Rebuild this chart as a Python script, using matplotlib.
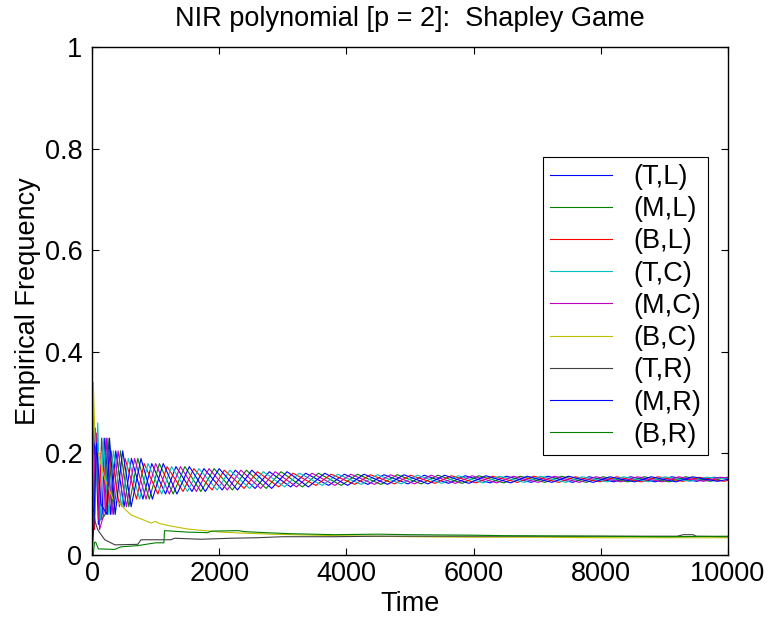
import matplotlib
matplotlib.use("Agg")
import matplotlib.pyplot as plt

plt.rcParams['font.family'] = ['Liberation Sans', 'DejaVu Sans']

# ---------------- data ----------------
labels = ["(T,L)", "(M,L)", "(B,L)", "(T,C)", "(M,C)", "(B,C)", "(T,R)", "(M,R)", "(B,R)"]

# per-cycle peak / trough levels of the six cycling joint actions
peak_lvl = [0.23, 0.205, 0.19, 0.18, 0.174, 0.170, 0.167, 0.164, 0.161, 0.159,
            0.158, 0.157, 0.156, 0.155, 0.155, 0.154, 0.154, 0.154, 0.153]
trough_lvl = [0.08, 0.095, 0.11, 0.12, 0.125, 0.128, 0.131, 0.134, 0.137, 0.139,
              0.140, 0.141, 0.142, 0.143, 0.143, 0.144, 0.144, 0.145, 0.145]

# (B,L) red
bl_t0 = [1, 10, 40, 75, 110]
bl_v0 = [0.0, 0.28, 0.05, 0.24, 0.07]
bl_t = [150, 240, 300, 432, 520, 700, 820, 1036, 1180, 1432, 1600, 1888, 2080, 2392,
        2600, 2936, 3160, 3520, 3760, 4132, 4380, 4758, 5010, 5394, 5650, 6040, 6300,
        6690, 6950, 7340, 7600, 7990, 8250, 8640, 8900, 9290, 9550, 9940]
bl_end = 0.147

# (T,C) cyan
tc_t0 = [1, 15, 45, 90, 135]
tc_v0 = [0.0, 0.2, 0.08, 0.26, 0.07]
tc_t = [175, 265, 337, 469, 570, 750, 880, 1096, 1250, 1502, 1680, 1968, 2167, 2479,
        2693, 3029, 3260, 3620, 3863, 4235, 4485, 4863, 5117, 5501, 5758, 6148, 6408,
        6798, 7058, 7448, 7708, 8098, 8358, 8748, 9008, 9398, 9658]
tc_end = 0.150

# (T,L) blue
tl_t0 = [1, 4, 15, 50, 100, 160]
tl_v0 = [1.0, 0.4, 0.12, 0.25, 0.06, 0.08]
tl_t = [200, 290, 373, 505, 620, 800, 940, 1156, 1320, 1572, 1760, 2048, 2253, 2565,
        2787, 3123, 3360, 3720, 3967, 4339, 4590, 4968, 5223, 5607, 5867, 6257, 6517,
        6907, 7167, 7557, 7817, 8207, 8467, 8857, 9117, 9507, 9767]
tl_end = 0.151

# (M,C) magenta
mc_t0 = [1, 20, 60, 120, 185]
mc_v0 = [0.0, 0.1, 0.24, 0.05, 0.08]
mc_t = [225, 315, 410, 542, 670, 850, 1000, 1216, 1390, 1642, 1840, 2128, 2340, 2652,
        2880, 3216, 3460, 3820, 4070, 4442, 4695, 5073, 5330, 5714, 5975, 6365, 6625,
        7015, 7275, 7665, 7925, 8315, 8575, 8965, 9225, 9615, 9875]
mc_end = 0.152

# (M,L) green
ml_t0 = [1, 8, 30, 80, 150, 210]
ml_v0 = [0.0, 0.34, 0.12, 0.2, 0.07, 0.08]
ml_t = [250, 340, 447, 579, 720, 900, 1060, 1276, 1460, 1712, 1920, 2208, 2427, 2739,
        2973, 3309, 3560, 3920, 4173, 4545, 4800, 5178, 5437, 5821, 6083, 6473, 6733,
        7123, 7383, 7773, 8033, 8423, 8683, 9073, 9333, 9723, 9983]
ml_end = 0.153

# (M,R) blue
mr_t0 = [1, 25, 70, 140, 235]
mr_v0 = [0.0, 0.05, 0.22, 0.1, 0.08]
mr_t = [275, 365, 483, 615, 770, 950, 1120, 1336, 1530, 1782, 2000, 2288, 2513, 2825,
        3067, 3403, 3660, 4020, 4277, 4649, 4905, 5283, 5543, 5927, 6192, 6582, 6842,
        7232, 7492, 7882, 8142, 8532, 8792, 9182, 9442, 9832]
mr_end = 0.149

# rarely played joint actions
bc_t = [1, 20, 50, 100, 200, 330, 400, 610, 930, 1000, 1060, 1240, 1510, 2030, 2400,
        2810, 3820, 5000, 6000, 7000, 8000, 9000, 10000]
bc_v = [0.0, 0.34, 0.22, 0.2, 0.15, 0.11, 0.105, 0.079, 0.063, 0.066, 0.062, 0.057,
        0.051, 0.045, 0.043, 0.041, 0.038, 0.036, 0.035, 0.035, 0.034, 0.034, 0.034]

tr_t = [1, 10, 50, 94, 200, 360, 720, 770, 1240, 1300, 1710, 2190, 2600, 3000, 3800,
        4500, 6000, 8000, 9200, 9300, 9450, 9500, 10000]
tr_v = [0.0, 0.1, 0.065, 0.049, 0.03, 0.02, 0.021, 0.03, 0.03, 0.033, 0.031, 0.033,
        0.034, 0.036, 0.036, 0.037, 0.037, 0.037, 0.037, 0.04, 0.04, 0.037, 0.036]

br_t = [1, 20, 40, 60, 100, 360, 450, 720, 1000, 1130, 1140, 1510, 1820, 1880, 2300,
        2400, 2720, 3100, 3820, 4500, 5000, 6000, 6500, 8000, 9000, 10000]
br_v = [0.0, 0.0, 0.025, 0.025, 0.012, 0.011, 0.016, 0.0185, 0.024, 0.024, 0.048,
        0.045, 0.044, 0.047, 0.048, 0.046, 0.044, 0.042, 0.04, 0.041, 0.04, 0.039,
        0.038, 0.037, 0.036, 0.037]

# MATLAB default colour order
c_b = (0, 0, 1)
c_g = (0, 0.5, 0)
c_r = (1, 0, 0)
c_c = (0, 0.75, 0.75)
c_m = (0.75, 0, 0.75)
c_y = (0.75, 0.75, 0)
c_k = (0.25, 0.25, 0.25)


def cyc(t0, v0, t, end):
    lv = []
    for p, q in zip(peak_lvl, trough_lvl):
        lv += [p, q]
    return t0 + t + [10000], v0 + lv[:len(t)] + [end]


series = [
    (cyc(tl_t0, tl_v0, tl_t, tl_end), c_b),
    (cyc(ml_t0, ml_v0, ml_t, ml_end), c_g),
    (cyc(bl_t0, bl_v0, bl_t, bl_end), c_r),
    (cyc(tc_t0, tc_v0, tc_t, tc_end), c_c),
    (cyc(mc_t0, mc_v0, mc_t, mc_end), c_m),
    ((bc_t, bc_v), c_y),
    ((tr_t, tr_v), c_k),
    (cyc(mr_t0, mr_v0, mr_t, mr_end), c_b),
    ((br_t, br_v), c_g),
]

# ---------------- figure ----------------
fig = plt.figure(figsize=(7.73, 6.19), dpi=100)
ax = fig.add_axes([92 / 773, 1 - 555 / 619, 636 / 773, 508 / 619])

for (xy, col), lab in zip(series, labels):
    ax.plot(xy[0], xy[1], color=col, lw=0.8, label=lab)

FS = 19.5
ax.set_xlim(0, 10000)
ax.set_ylim(0, 1)
ax.set_xticks([0, 2000, 4000, 6000, 8000, 10000])
ax.set_xticklabels(["0", "2000", "4000", "6000", "8000", "10000"])
ax.set_yticks([0, 0.2, 0.4, 0.6, 0.8, 1.0])
ax.set_yticklabels(["0", "0.2", "0.4", "0.6", "0.8", "1"])
ax.tick_params(direction='in', length=5, width=0.8, top=True, right=True,
               labelsize=FS)
ax.tick_params(axis='x', pad=4)
ax.tick_params(axis='y', pad=7)
for s in ax.spines.values():
    s.set_linewidth(1.0)

ax.set_xlabel("Time", fontsize=FS, va='center')
ax.xaxis.set_label_coords(0.5, (555 - 604) / 508)
ax.set_ylabel("Empirical Frequency", fontsize=FS, va='center')
ax.yaxis.set_label_coords((28 - 92) / 636, 0.5)
ax.set_title("NIR polynomial [p = 2]:  Shapley Game", fontsize=FS, pad=15)

leg = ax.legend(loc='upper right', bbox_to_anchor=(0.969, 0.783), fontsize=FS,
                frameon=True, fancybox=False, framealpha=1, edgecolor='black',
                borderaxespad=0, handlelength=2.3, handletextpad=0.8,
                labelspacing=0.23, borderpad=0.25)
leg.get_frame().set_linewidth(0.8)

fig.savefig("out.png", dpi=100)
